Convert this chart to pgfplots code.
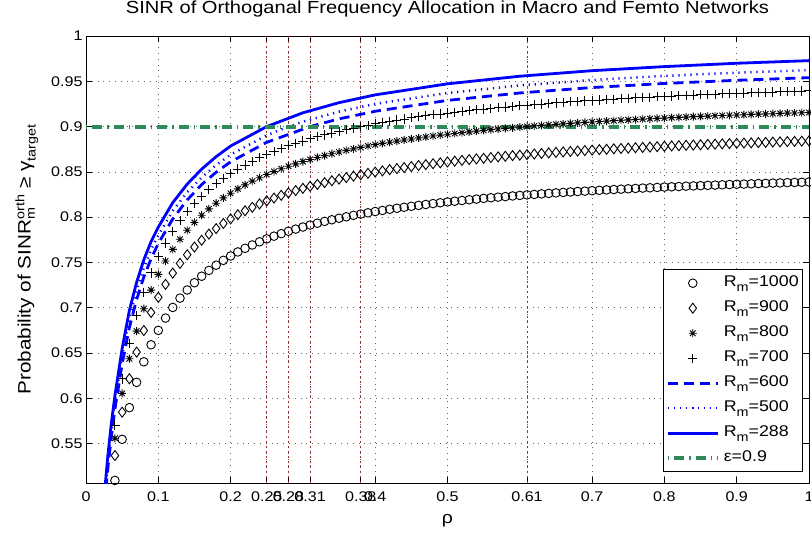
\documentclass[border=0pt]{standalone}
\usepackage{fontspec}
\setmainfont{Liberation Sans}[FakeStretch=1.15]
\usepackage{pgfplots}
\pgfplotsset{compat=1.18}
\usepackage{pgfplotstable}

\definecolor{mgreen}{RGB}{46,139,87}
\definecolor{mred}{RGB}{150,45,45}
\definecolor{mblue}{RGB}{0,0,255}

\pgfdeclareplotmark{mstar}{%
  \pgfpathmoveto{\pgfqpoint{-\pgfplotmarksize}{0pt}}\pgfpathlineto{\pgfqpoint{\pgfplotmarksize}{0pt}}%
  \pgfpathmoveto{\pgfqpoint{0pt}{-\pgfplotmarksize}}\pgfpathlineto{\pgfqpoint{0pt}{\pgfplotmarksize}}%
  \pgfpathmoveto{\pgfqpoint{-.707\pgfplotmarksize}{-.707\pgfplotmarksize}}\pgfpathlineto{\pgfqpoint{.707\pgfplotmarksize}{.707\pgfplotmarksize}}%
  \pgfpathmoveto{\pgfqpoint{-.707\pgfplotmarksize}{.707\pgfplotmarksize}}\pgfpathlineto{\pgfqpoint{.707\pgfplotmarksize}{-.707\pgfplotmarksize}}%
  \pgfusepathqstroke}

\newcommand{\msub}[1]{\raisebox{-5pt}{\fontsize{12.5}{13}\selectfont #1}}
\newcommand{\sm}[1]{\hbox{\fontsize{12.5}{13}\selectfont #1}}

% marker series: rho, R=1000 (C), R=900 (D), R=800 (S), R=700 (P)
\pgfplotstableread{
rho C D S P
0.04 0.5093 0.5368 0.5559 0.5705
0.05 0.5547 0.5847 0.6055 0.6214
0.06 0.5897 0.6216 0.6437 0.6606
0.07 0.6176 0.6510 0.6741 0.6918
0.08 0.6403 0.6749 0.6989 0.7172
0.09 0.6591 0.6948 0.7195 0.7384
0.10 0.6750 0.7115 0.7368 0.7562
0.11 0.6886 0.7258 0.7516 0.7714
0.12 0.7003 0.7382 0.7644 0.7845
0.13 0.7106 0.7490 0.7756 0.7960
0.14 0.7196 0.7585 0.7855 0.8061
0.15 0.7276 0.7670 0.7942 0.8151
0.16 0.7348 0.7745 0.8021 0.8231
0.17 0.7412 0.7813 0.8091 0.8303
0.18 0.7470 0.7874 0.8154 0.8368
0.19 0.7523 0.7930 0.8212 0.8427
0.20 0.7571 0.7981 0.8264 0.8481
0.21 0.7616 0.8027 0.8313 0.8531
0.22 0.7656 0.8070 0.8357 0.8576
0.23 0.7693 0.8109 0.8398 0.8618
0.24 0.7728 0.8146 0.8435 0.8657
0.25 0.7760 0.8180 0.8471 0.8693
0.26 0.7790 0.8211 0.8503 0.8726
0.27 0.7818 0.8241 0.8534 0.8758
0.28 0.7844 0.8268 0.8562 0.8787
0.29 0.7868 0.8294 0.8589 0.8814
0.30 0.7891 0.8318 0.8614 0.8840
0.31 0.7913 0.8341 0.8637 0.8864
0.32 0.7933 0.8362 0.8659 0.8887
0.33 0.7953 0.8382 0.8680 0.8908
0.34 0.7971 0.8402 0.8700 0.8929
0.35 0.7988 0.8420 0.8719 0.8948
0.36 0.8004 0.8437 0.8737 0.8966
0.37 0.8020 0.8453 0.8754 0.8984
0.38 0.8034 0.8469 0.8770 0.9000
0.39 0.8048 0.8484 0.8785 0.9016
0.40 0.8062 0.8498 0.8800 0.9031
0.41 0.8074 0.8511 0.8814 0.9045
0.42 0.8087 0.8524 0.8827 0.9059
0.43 0.8098 0.8536 0.8840 0.9072
0.44 0.8109 0.8548 0.8852 0.9084
0.45 0.8120 0.8559 0.8863 0.9096
0.46 0.8130 0.8570 0.8875 0.9108
0.47 0.8140 0.8580 0.8885 0.9119
0.48 0.8150 0.8590 0.8896 0.9129
0.49 0.8159 0.8600 0.8906 0.9139
0.50 0.8168 0.8609 0.8915 0.9149
0.51 0.8176 0.8618 0.8924 0.9159
0.52 0.8184 0.8626 0.8933 0.9168
0.53 0.8192 0.8635 0.8942 0.9176
0.54 0.8199 0.8643 0.8950 0.9185
0.55 0.8207 0.8650 0.8958 0.9193
0.56 0.8214 0.8658 0.8966 0.9201
0.57 0.8221 0.8665 0.8973 0.9209
0.58 0.8227 0.8672 0.8980 0.9216
0.59 0.8234 0.8679 0.8987 0.9223
0.60 0.8240 0.8685 0.8994 0.9230
0.61 0.8246 0.8691 0.9000 0.9237
0.62 0.8251 0.8697 0.9007 0.9243
0.63 0.8257 0.8703 0.9013 0.9249
0.64 0.8262 0.8709 0.9019 0.9255
0.65 0.8268 0.8715 0.9025 0.9261
0.66 0.8273 0.8720 0.9030 0.9267
0.67 0.8278 0.8725 0.9036 0.9273
0.68 0.8283 0.8730 0.9041 0.9278
0.69 0.8287 0.8735 0.9046 0.9283
0.70 0.8292 0.8740 0.9051 0.9289
0.71 0.8296 0.8745 0.9056 0.9293
0.72 0.8301 0.8749 0.9060 0.9298
0.73 0.8305 0.8754 0.9065 0.9303
0.74 0.8309 0.8758 0.9070 0.9308
0.75 0.8313 0.8762 0.9074 0.9312
0.76 0.8317 0.8766 0.9078 0.9316
0.77 0.8321 0.8770 0.9082 0.9321
0.78 0.8324 0.8774 0.9086 0.9325
0.79 0.8328 0.8778 0.9090 0.9329
0.80 0.8332 0.8782 0.9094 0.9333
0.81 0.8335 0.8786 0.9098 0.9337
0.82 0.8338 0.8789 0.9102 0.9340
0.83 0.8342 0.8793 0.9105 0.9344
0.84 0.8345 0.8796 0.9109 0.9348
0.85 0.8348 0.8799 0.9112 0.9351
0.86 0.8351 0.8803 0.9115 0.9355
0.87 0.8354 0.8806 0.9119 0.9358
0.88 0.8357 0.8809 0.9122 0.9361
0.89 0.8360 0.8812 0.9125 0.9365
0.90 0.8363 0.8815 0.9128 0.9368
0.91 0.8365 0.8818 0.9131 0.9371
0.92 0.8368 0.8820 0.9134 0.9374
0.93 0.8371 0.8823 0.9137 0.9377
0.94 0.8373 0.8826 0.9140 0.9380
0.95 0.8376 0.8829 0.9142 0.9382
0.96 0.8378 0.8831 0.9145 0.9385
0.97 0.8381 0.8834 0.9148 0.9388
0.98 0.8383 0.8836 0.9150 0.9391
0.99 0.8385 0.8839 0.9153 0.9393
1.00 0.8388 0.8841 0.9155 0.9396
}\markers

% R=600 (dashed)
\pgfplotstableread{
rho p
0.02 0.4300
0.025 0.4780
0.03 0.5210
0.035 0.5570
0.04 0.5880
0.05 0.6380
0.06 0.6780
0.07 0.7090
0.08 0.7340
0.09 0.7540
0.10 0.7710
0.12 0.7980
0.14 0.8190
0.16 0.8360
0.18 0.8496
0.20 0.8611
0.25 0.8826
0.31 0.9000
0.35 0.9085
0.40 0.9169
0.50 0.9289
0.60 0.9371
0.70 0.9431
0.80 0.9476
0.90 0.9511
1.00 0.9540
}\rsix

% R=500 (dotted)
\pgfplotstableread{
rho p
0.02 0.4350
0.025 0.4840
0.03 0.5280
0.035 0.5650
0.04 0.5960
0.05 0.6470
0.06 0.6880
0.07 0.7190
0.08 0.7440
0.09 0.7640
0.10 0.7800
0.12 0.8070
0.14 0.8275
0.16 0.8440
0.18 0.8575
0.20 0.8690
0.25 0.8904
0.28 0.9000
0.30 0.9054
0.35 0.9165
0.40 0.9250
0.50 0.9371
0.60 0.9454
0.70 0.9514
0.80 0.9559
0.90 0.9595
1.00 0.9624
}\rfive

% R=288 (solid)
\pgfplotstableread{
rho p
0.02 0.4400
0.025 0.4900
0.03 0.5350
0.035 0.5720
0.04 0.6030
0.05 0.6550
0.06 0.6970
0.07 0.7280
0.08 0.7530
0.09 0.7730
0.10 0.7890
0.12 0.8160
0.14 0.8365
0.16 0.8530
0.18 0.8668
0.20 0.8785
0.25 0.9000
0.30 0.9152
0.35 0.9264
0.40 0.9350
0.50 0.9472
0.60 0.9556
0.70 0.9617
0.80 0.9662
0.90 0.9699
1.00 0.9728
}\rtwo

\begin{document}
\begin{tikzpicture}
\begin{axis}[name=ax,
  scale only axis, width=723pt, height=447pt,
  xmin=0, xmax=1, ymin=0.5065, ymax=1,
  xtick={0,0.1,0.2,0.25,0.28,0.31,0.38,0.4,0.5,0.61,0.7,0.8,0.9,1},
  xticklabels={0,0.1,0.2,0.25,0.28,0.31,0.38,0.4,0.5,0.61,0.7,0.8,0.9,1},
  ytick={0.55,0.6,0.65,0.7,0.75,0.8,0.85,0.9,0.95,1},
  yticklabels={0.55,0.6,0.65,0.7,0.75,0.8,0.85,0.9,0.95,1},
  tick align=inside, major tick length=6pt,
  tick style={black, line width=0.6pt},
  axis line style={black, line width=0.7pt},
  grid=major,
  major grid style={black!60, line width=0.7pt, dash pattern=on 0.8pt off 5pt},
  tick label style={font=\fontsize{14}{16}\selectfont},
  xticklabel style={yshift=-5pt},
  title={SINR of Orthoganal Frequency Allocation in Macro and Femto Networks},
  title style={font=\fontsize{17.5}{20}\selectfont, at={(0.5,1)}, anchor=base, yshift=16pt},
  xlabel={ρ},
  xlabel style={font=\fontsize{17}{19}\selectfont, at={(axis description cs:0.5,-0.085)}, anchor=center},
  ylabel={Probability of SINR$^{\sm{orth}}_{\sm{m}}$ ≥ γ\msub{target}},
  ylabel style={font=\fontsize{18}{20}\selectfont, at={(axis description cs:-0.082,0.5)}, anchor=center},
  legend cell align=left,
  legend style={at={(0.9917,0.0246)}, anchor=south east, draw=black, line width=0.6pt, fill=white,
    font=\fontsize{15.5}{18}\selectfont, row sep=4pt, inner xsep=2pt, inner ysep=3pt,
    /tikz/every odd column/.append style={column sep=2pt},
    nodes={inner sep=2pt, text height=11.5pt, text depth=5.5pt}},
  legend image code/.code={\draw[mark repeat=2,mark phase=2,#1] plot coordinates {(0pt,0pt) (25pt,0pt) (50pt,0pt)};},
]
% dotted red marker lines at the 0.9 crossings
\addplot[forget plot, mred, line width=0.6pt, dash pattern=on 2pt off 3pt] coordinates {(0.25,0.5065) (0.25,1)};
\addplot[forget plot, mred, line width=0.6pt, dash pattern=on 2pt off 3pt] coordinates {(0.28,0.5065) (0.28,1)};
\addplot[forget plot, mred, line width=0.6pt, dash pattern=on 2pt off 3pt] coordinates {(0.31,0.5065) (0.31,1)};
\addplot[forget plot, mred, line width=0.6pt, dash pattern=on 2pt off 3pt] coordinates {(0.38,0.5065) (0.38,1)};
\addplot[forget plot, mred, line width=0.6pt, dash pattern=on 2pt off 3pt] coordinates {(0.61,0.5065) (0.61,1)};

\addplot[only marks, black, mark=o, mark size=4.3pt, line width=0.9pt] table[x=rho, y=C] {\markers};
\addlegendentry{R\msub{m}=1000}
\addplot[only marks, black, mark=diamond, mark size=5pt, line width=0.9pt] table[x=rho, y=D] {\markers};
\addlegendentry{R\msub{m}=900}
\addplot[only marks, black, mark=mstar, mark size=4pt, line width=0.9pt] table[x=rho, y=S] {\markers};
\addlegendentry{R\msub{m}=800}
\addplot[only marks, black, mark=+, mark size=4.6pt, line width=0.9pt] table[x=rho, y=P] {\markers};
\addlegendentry{R\msub{m}=700}
\addplot[mblue, no marks, line width=2.8pt, dash pattern=on 10pt off 6pt] table[x=rho, y=p] {\rsix};
\addlegendentry{R\msub{m}=600}
\addplot[mblue, no marks, line width=2.5pt, dash pattern=on 1.2pt off 4.8pt] table[x=rho, y=p] {\rfive};
\addlegendentry{R\msub{m}=500}
\addplot[mblue, no marks, line width=2.8pt] table[x=rho, y=p] {\rtwo};
\addlegendentry{R\msub{m}=288}
\addplot[mgreen, no marks, line width=4pt, dash pattern=on 1.5pt off 5pt on 10pt off 5pt] coordinates {(0,0.9) (1,0.9)};
\addlegendentry{ε=0.9}
\end{axis}
\pgfresetboundingbox
\path[use as bounding box] ([xshift=-86pt,yshift=-50pt]ax.south west) rectangle ([xshift=2pt,yshift=36pt]ax.north east);
\end{tikzpicture}
\end{document}
